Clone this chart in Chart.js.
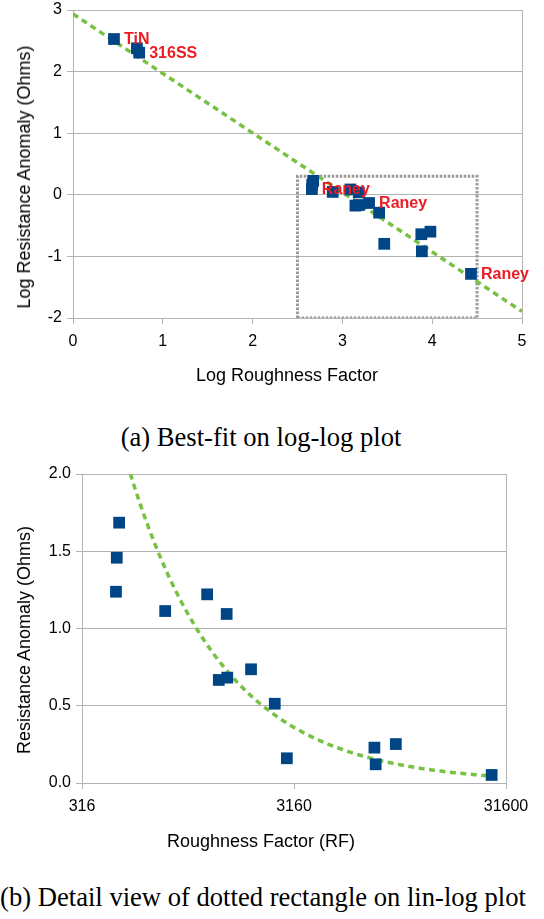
<!DOCTYPE html>
<html>
<head>
<meta charset="utf-8">
<title>Resistance anomaly vs roughness factor</title>
<script src="https://cdn.jsdelivr.net/npm/chart.js@4.4.1/dist/chart.umd.min.js"></script>
<style>
    html, body { margin: 0; padding: 0; background: #fff; }
    #page { position: relative; width: 544px; height: 919px; overflow: hidden; color: #000;
            font-family: "Liberation Sans", Arial, sans-serif; }
    .plot { position: absolute; left: 0; width: 544px; height: 400px; }
    #plotA { top: 0; }
    #plotB { top: 460px; }
    .axis-title { position: absolute; font-size: 18px; white-space: nowrap; line-height: 1;
                  transform: translate(-50%, -50%); }
    .axis-title.vertical { transform: translate(-50%, -50%) rotate(-90deg); }
    .caption { position: absolute; font-family: "Liberation Serif", "DejaVu Serif", serif; font-size: 26.6px;
               white-space: nowrap; line-height: 1; transform: translate(-50%, -50%); }
</style>
</head>
<body>
<div id="page">
    <div class="plot" id="plotA"><canvas id="logLogChart"></canvas></div>
    <div class="axis-title" style="left:287px; top:375px;">Log Roughness Factor</div>
    <div class="axis-title vertical" style="left:24px; top:177px;">Log Resistance Anomaly (Ohms)</div>
    <div class="caption" style="left:261px; top:437px;">(a) Best-fit on log-log plot</div>

    <div class="plot" id="plotB"><canvas id="detailChart"></canvas></div>
    <div class="axis-title" style="left:261px; top:841px;">Roughness Factor (RF)</div>
    <div class="axis-title vertical" style="left:24px; top:640px;">Resistance Anomaly (Ohms)</div>
    <div class="caption" style="left:263px; top:897px;">(b) Detail view of dotted rectangle on lin-log plot</div>
</div>

<script>
// Medições: fator de rugosidade e anomalia de resistência (Ohms)
const roughness = [2.86, 5.15, 5.46, 473, 461, 457, 780, 1230, 1521, 1396, 1531, 1982, 2564, 2924, 7568, 7674, 9550, 27040];
const resistance = [338, 239, 203, 1.685, 1.458, 1.238, 1.113, 1.221, 1.094, 0.667, 0.682, 0.736, 0.513, 0.160, 0.229, 0.121, 0.252, 0.052];
const materials = ['TiN', '', '316SS', '', '', 'Raney', '', '', '', '', '', 'Raney', '', '', '', '', '', 'Raney'];

// Marcas dos eixos
const logRoughnessTicks = [0, 1, 2, 3, 4, 5];
const logResistanceTicks = [-2, -1, 0, 1, 2, 3];
const roughnessTicks = [316, 3160, 31600];
const resistanceTicks = [0, 0.5, 1, 1.5, 2];

const GRID = '#b3b3b3';
const MARKER = '#004586';
const FIT = '#79c143';
const LABEL = '#ed1c24';

Chart.defaults.font.family = '"Liberation Sans", Arial, sans-serif';
Chart.defaults.font.size = 16;
Chart.defaults.color = '#000';

const logX = roughness.map(v => Math.log10(v));
const logY = resistance.map(v => Math.log10(v));

// Regressão linear (mínimos quadrados) no espaço log-log
function leastSquares(xs, ys) {
    const n = xs.length;
    const mx = xs.reduce((a, b) => a + b, 0) / n;
    const my = ys.reduce((a, b) => a + b, 0) / n;
    let sxy = 0, sxx = 0;
    for (let i = 0; i < n; i++) {
        sxy += (xs[i] - mx) * (ys[i] - my);
        sxx += (xs[i] - mx) * (xs[i] - mx);
    }
    const slope = sxy / sxx;
    return { slope: slope, intercept: my - slope * mx };
}
const fit = leastSquares(logX, logY);

function fixedTicks(values) {
    return function(scale) {
        scale.ticks = values.map(v => ({ value: v }));
    };
}

// Largura fixa do eixo y, sem folga extra para os rótulos das pontas
function yAxisWidth(width) {
    return function(scale) {
        scale.width = width;
        scale.paddingTop = 0;
        scale.paddingBottom = 0;
    };
}

// Só a última linha vertical da grade aparece (borda direita)
function lastOnly(ctx) {
    return ctx.index === ctx.scale.ticks.length - 1 ? GRID : 'rgba(0,0,0,0)';
}

// Rótulos em vermelho ao lado dos pontos
const pointLabels = {
    id: 'pointLabels',
    afterDatasetsDraw(chart) {
        const meta = chart.getDatasetMeta(0);
        const ctx = chart.ctx;
        ctx.save();
        ctx.font = 'bold 16px "Liberation Sans", Arial, sans-serif';
        ctx.fillStyle = LABEL;
        ctx.textBaseline = 'middle';
        meta.data.forEach(function(pt, i) {
            if (materials[i]) ctx.fillText(materials[i], pt.x + 10, pt.y + 1);
        });
        ctx.restore();
    }
};

const baseOptions = {
    animation: false,
    responsive: true,
    maintainAspectRatio: false,
    events: [],
    plugins: { legend: { display: false }, tooltip: { enabled: false } }
};

// (a) gráfico log-log
const xMinA = logRoughnessTicks[0];
const xMaxA = logRoughnessTicks[logRoughnessTicks.length - 1];
const rectX = [Math.log10(roughnessTicks[0]), Math.log10(roughnessTicks[roughnessTicks.length - 1])];
const rectY = [logResistanceTicks[0], Math.log10(resistanceTicks[resistanceTicks.length - 1])];

new Chart(document.getElementById('logLogChart'), {
    type: 'scatter',
    data: {
        datasets: [{
            data: logX.map((x, i) => ({ x: x, y: logY[i] })),
            backgroundColor: MARKER,
            borderColor: MARKER,
            borderWidth: 0,
            pointStyle: 'rect',
            pointRadius: 8.3
        }, {
            data: [xMinA, xMaxA].map(x => ({ x: x, y: fit.intercept + fit.slope * x })),
            showLine: true,
            borderColor: FIT,
            borderWidth: 3.5,
            borderDash: [6, 4.5],
            pointRadius: 0
        }, {
            data: [
                { x: rectX[0], y: rectY[0] }, { x: rectX[0], y: rectY[1] },
                { x: rectX[1], y: rectY[1] }, { x: rectX[1], y: rectY[0] },
                { x: rectX[0], y: rectY[0] }
            ],
            showLine: true,
            borderColor: '#9a9a9a',
            borderWidth: 3,
            borderDash: [2.5, 1.5],
            pointRadius: 0
        }]
    },
    options: Object.assign({}, baseOptions, {
        layout: { padding: { left: 0, right: 22, top: 10, bottom: 0 } },
        scales: {
            x: {
                type: 'linear',
                min: xMinA,
                max: xMaxA,
                afterBuildTicks: fixedTicks(logRoughnessTicks),
                afterFit: function(scale) { scale.height = 82; },
                grid: { color: lastOnly, tickColor: GRID, tickLength: 6 },
                border: { color: GRID },
                ticks: { padding: 8 }
            },
            y: {
                min: logResistanceTicks[0],
                max: logResistanceTicks[logResistanceTicks.length - 1],
                afterBuildTicks: fixedTicks(logResistanceTicks),
                afterFit: yAxisWidth(73),
                grid: { color: GRID, tickColor: GRID, tickLength: 6 },
                border: { color: GRID },
                ticks: { padding: 5 }
            }
        }
    }),
    plugins: [pointLabels]
});

// (b) detalhe do retângulo pontilhado, eixo x logarítmico
const rfMin = roughnessTicks[0];
const rfMax = roughnessTicks[roughnessTicks.length - 1];
const detailPoints = [];
roughness.forEach(function(rf, i) {
    if (rf >= rfMin && rf <= rfMax) detailPoints.push({ x: rf, y: resistance[i] });
});

// Curva de potência da regressão, até o último ponto medido
const fitCurve = [];
const lgStart = Math.log10(rfMin);
const lgEnd = Math.log10(Math.max.apply(null, detailPoints.map(p => p.x)));
for (let k = 0; k <= 120; k++) {
    const lg = lgStart + (lgEnd - lgStart) * k / 120;
    fitCurve.push({ x: Math.pow(10, lg), y: Math.pow(10, fit.intercept + fit.slope * lg) });
}

new Chart(document.getElementById('detailChart'), {
    type: 'scatter',
    data: {
        datasets: [{
            data: detailPoints,
            backgroundColor: MARKER,
            borderColor: MARKER,
            borderWidth: 0,
            pointStyle: 'rect',
            pointRadius: 8.3
        }, {
            data: fitCurve,
            showLine: true,
            borderColor: FIT,
            borderWidth: 3.5,
            borderDash: [6, 4.5],
            pointRadius: 0
        }]
    },
    options: Object.assign({}, baseOptions, {
        layout: { padding: { left: 0, right: 38, top: 14, bottom: 0 } },
        scales: {
            x: {
                type: 'logarithmic',
                min: rfMin,
                max: rfMax,
                afterBuildTicks: fixedTicks(roughnessTicks),
                afterFit: function(scale) { scale.height = 77; },
                grid: { color: lastOnly, tickColor: GRID, tickLength: 6 },
                border: { color: GRID },
                ticks: { padding: 8, callback: value => String(value) }
            },
            y: {
                min: resistanceTicks[0],
                max: resistanceTicks[resistanceTicks.length - 1],
                afterBuildTicks: fixedTicks(resistanceTicks),
                afterFit: yAxisWidth(82),
                grid: { color: GRID, tickColor: GRID, tickLength: 6 },
                border: { color: GRID },
                ticks: { padding: 5, callback: value => value.toFixed(1) }
            }
        }
    })
});
</script>
</body>
</html>
